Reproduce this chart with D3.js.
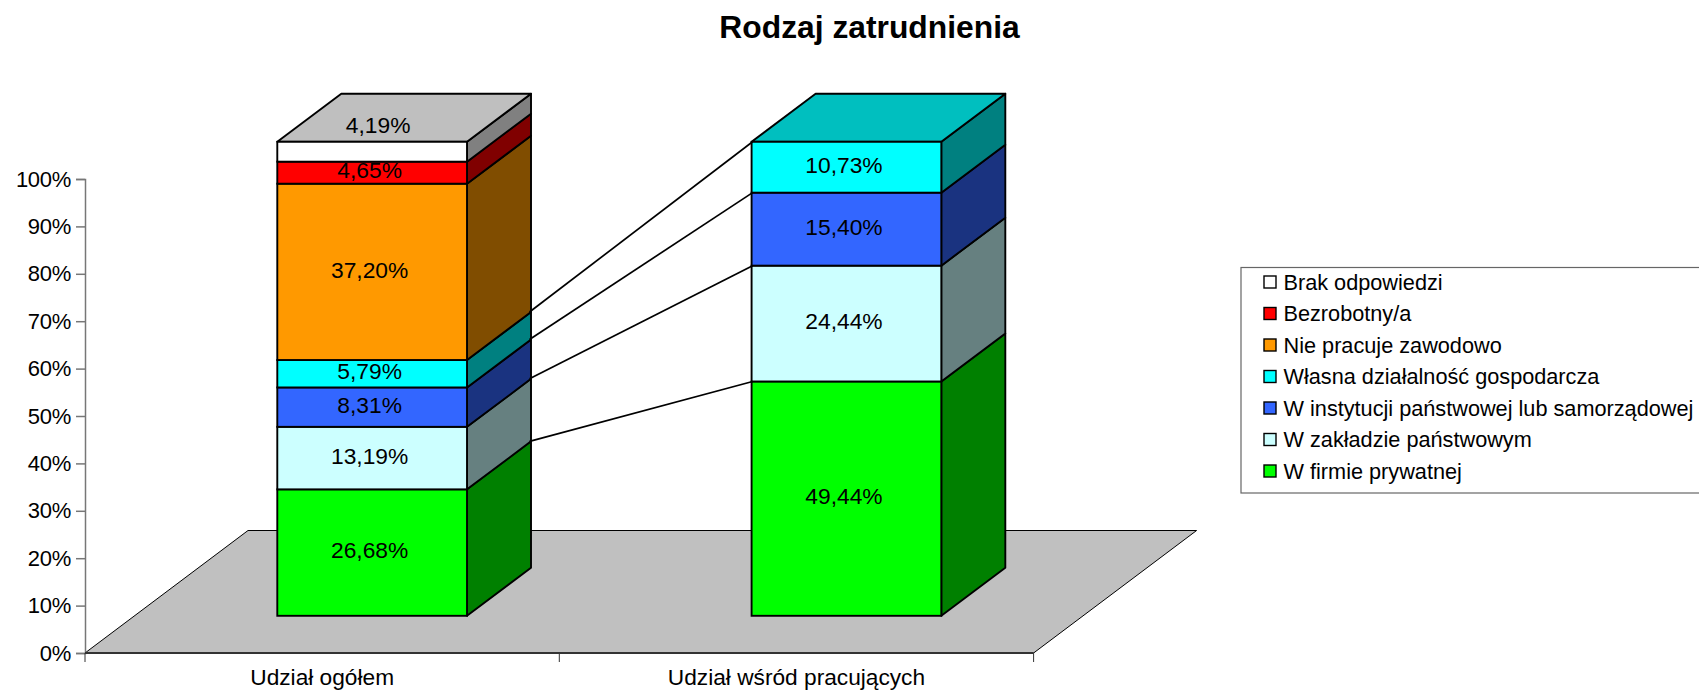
<!DOCTYPE html>
<html lang="pl">
<head>
<meta charset="utf-8">
<script src="https://cdnjs.cloudflare.com/ajax/libs/d3/7.8.5/d3.min.js"></script>
<style>
html,body{margin:0;padding:0;background:#fff;overflow:hidden}
text{font-family:"Liberation Sans",Arial,sans-serif;fill:#000}
</style>
</head>
<body>
<svg id="c" width="1699" height="691"></svg>
<script>
const categories = ["Udział ogółem", "Udział wśród pracujących"];
const seriesNames = ["W firmie prywatnej", "W zakładzie państwowym", "W instytucji państwowej lub samorządowej", "Własna działalność gospodarcza", "Nie pracuje zawodowo", "Bezrobotny/a", "Brak odpowiedzi"];
const firmaPrywatna = [26.68, 49.44];
const zakladPanstwowy = [13.19, 24.44];
const instytucja = [8.31, 15.40];
const wlasnaDzialalnosc = [5.79, 10.73];
const niePracuje = [37.20, 0];
const bezrobotny = [4.65, 0];
const brakOdpowiedzi = [4.19, 0];
const seriesColors = ["#00FF00", "#CCFFFF", "#3366FF", "#00FFFF", "#FF9900", "#FF0000", "#FFFFFF"];
const yTicks = [0, .1, .2, .3, .4, .5, .6, .7, .8, .9, 1];

const seriesValues = [firmaPrywatna, zakladPanstwowy, instytucja, wlasnaDzialalnosc, niePracuje, bezrobotny, brakOdpowiedzi];
const rows = categories.map((c, i) => {
  const r = {category: c};
  seriesNames.forEach((s, j) => r[s] = seriesValues[j][i]);
  return r;
});
const stacked = d3.stack().keys(seriesNames).offset(d3.stackOffsetExpand)(rows);

// Layout
const plot = {left: 85, right: 1033.6, top: 179, bottom: 653};
const floor = {dx: 163, dy: 122.5};     // total depth of the floor
const front = {dx: 50, dy: 37.2};       // floor edge to bar front
const depth = {dx: 64, dy: 48};         // bar depth
const edge = 1.9;

const svg = d3.select("#c");
const x = d3.scaleBand().domain(categories).range([plot.left, plot.right]).paddingInner(0.6).paddingOuter(0.3);
const xAxisScale = d3.scaleBand().domain(categories).range([plot.left, plot.right]);
const y = d3.scaleLinear().domain([0, 1]).range([plot.bottom, plot.top]);

// Floor
const floorPath = d3.path();
floorPath.moveTo(plot.left, plot.bottom);
floorPath.lineTo(plot.left + floor.dx, plot.bottom - floor.dy);
floorPath.lineTo(plot.right + floor.dx, plot.bottom - floor.dy);
floorPath.lineTo(plot.right, plot.bottom);
floorPath.closePath();
svg.append("path").attr("d", floorPath.toString()).attr("fill", "#C0C0C0").attr("stroke", "#000").attr("stroke-width", 1);

// Axes
const yAxis = d3.axisLeft(y).tickValues(yTicks).tickFormat(d3.format(".0%")).tickSize(9).tickPadding(5);
const gy = svg.append("g").attr("transform", `translate(${plot.left},0)`).call(yAxis);
gy.selectAll("path,line").attr("stroke", "#777").attr("stroke-width", 1.5);
gy.selectAll("text").attr("font-size", 22).attr("letter-spacing", "-0.3")
  .style("font-family", '"Liberation Sans",Arial,sans-serif');

const xAxis = d3.axisBottom(xAxisScale).tickSize(0).tickPadding(16);
const gx = svg.append("g").attr("transform", `translate(0,${plot.bottom})`).call(xAxis);
gx.select("path").attr("stroke", "#333").attr("stroke-width", 2).attr("d", `M${plot.left},0H${plot.right}`);
gx.selectAll("text").attr("font-size", 22.7).attr("dy", "0.71em").style("font-family", '"Liberation Sans",Arial,sans-serif');
const sep = [plot.left, (plot.left + plot.right) / 2, plot.right];
gx.selectAll("line.sep").data(sep).join("line").attr("class", "sep")
  .attr("x1", d => d).attr("x2", d => d).attr("y1", 0).attr("y2", 9)
  .attr("stroke", "#333").attr("stroke-width", 1);

// Bars
const fy = v => y(v) - front.dy;
const shade = (c, k) => { const h = d3.rgb(c); return d3.rgb(h.r * k, h.g * k, h.b * k).formatHex(); };
const barX = c => x(c) + front.dx;
const barW = x.bandwidth();

const barsG = svg.append("g");
categories.forEach((cat, i) => {
  const x0 = barX(cat), x1 = x0 + barW;
  const g = barsG.append("g");
  const visible = stacked.map((s, j) => ({y0: s[i][0], y1: s[i][1], color: seriesColors[j]})).filter(d => d.y1 - d.y0 > 0);
  // side faces
  visible.forEach(d => {
    g.append("polygon")
      .attr("points", [[x1, fy(d.y0)], [x1 + depth.dx, fy(d.y0) - depth.dy], [x1 + depth.dx, fy(d.y1) - depth.dy], [x1, fy(d.y1)]].join(" "))
      .attr("fill", shade(d.color, 0.5)).attr("stroke", "#000").attr("stroke-width", edge).attr("stroke-linejoin", "round");
  });
  // top face
  const top = visible[visible.length - 1];
  g.append("polygon")
    .attr("points", [[x0, fy(top.y1)], [x0 + depth.dx, fy(top.y1) - depth.dy], [x1 + depth.dx, fy(top.y1) - depth.dy], [x1, fy(top.y1)]].join(" "))
    .attr("fill", shade(top.color, 0.75)).attr("stroke", "#000").attr("stroke-width", edge).attr("stroke-linejoin", "round");
  // front faces
  visible.forEach(d => {
    g.append("rect").attr("x", x0).attr("y", fy(d.y1)).attr("width", barW).attr("height", fy(d.y0) - fy(d.y1))
      .attr("fill", d.color).attr("stroke", "#000").attr("stroke-width", edge);
  });
});

// Series lines: back edge of the first bar to the front edge of the second bar
const bar1 = barX(categories[0]) + barW + depth.dx;
const bar2 = barX(categories[1]);
stacked.slice(0, 4).forEach(s => {
  svg.append("line")
    .attr("x1", bar1 - 1.5).attr("y1", fy(s[0][1]) - depth.dy)
    .attr("x2", bar2 + 1).attr("y2", fy(s[1][1]))
    .attr("stroke", "#000").attr("stroke-width", 1.7);
});

// Data labels
const fmt = v => v.toFixed(2).replace(".", ",") + "%";
const lastSeries = seriesNames.length - 1;
stacked.forEach((s, j) => {
  categories.forEach((cat, i) => {
    const v = seriesValues[j][i];
    if (!v) return;
    const mid = fy((s[i][0] + s[i][1]) / 2);
    const onTop = j === lastSeries;      // this label sits on the top face
    svg.append("text")
      .attr("x", barX(cat) + barW / 2 + (onTop ? 6 : -2.5))
      .attr("y", onTop ? mid - 26.5 : mid - 2.5)
      .attr("dy", "0.36em")
      .attr("text-anchor", "middle")
      .attr("font-size", 22.8)
      .text(fmt(v));
  });
});

// Title
svg.append("text").attr("x", 869.5).attr("y", 38).attr("text-anchor", "middle")
  .attr("font-size", 31.8).attr("font-weight", "bold").text("Rodzaj zatrudnienia");

// Legend
const legend = {x: 1241, y: 267.5, w: 480, h: 225.5, row: 31.5, first: 282, sw: 12};
svg.append("rect").attr("x", legend.x).attr("y", legend.y).attr("width", legend.w).attr("height", legend.h)
  .attr("fill", "#fff").attr("stroke", "#666").attr("stroke-width", 1.2);
const legendItems = seriesNames.map((n, j) => ({n, c: seriesColors[j]})).reverse();
const li = svg.selectAll("g.li").data(legendItems).join("g").attr("class", "li")
  .attr("transform", (d, i) => `translate(0,${legend.first + i * legend.row})`);
li.append("rect").attr("x", 1264).attr("y", -legend.sw / 2).attr("width", legend.sw).attr("height", legend.sw)
  .attr("fill", d => d.c).attr("stroke", "#000").attr("stroke-width", 1.4);
li.append("text").attr("x", 1283.5).attr("dy", "0.36em").attr("font-size", 21.7).text(d => d.n);
</script>
</body>
</html>
